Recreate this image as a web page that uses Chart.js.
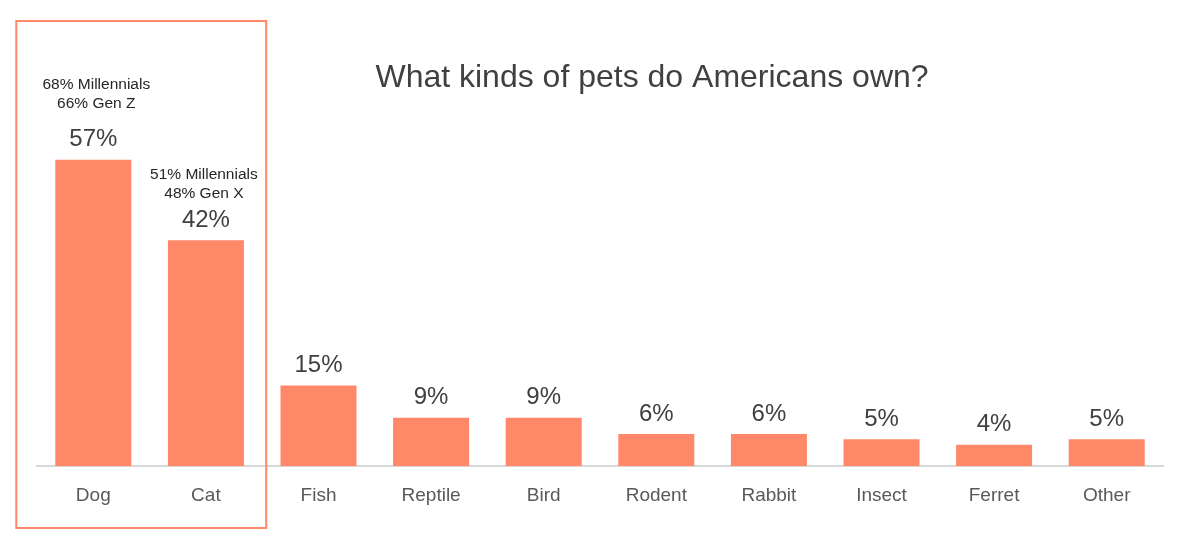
<!DOCTYPE html>
<html>
<head>
<meta charset="utf-8">
<script src="https://cdn.jsdelivr.net/npm/chart.js@4.4.1/dist/chart.umd.min.js"></script>
<style>
html,body{margin:0;padding:0;background:#fff;}
#wrap{width:1177px;height:550px;position:relative;}
</style>
</head>
<body>
<div id="wrap"><canvas id="c" width="1177" height="550"></canvas></div>
<script>
const categories = ["Dog","Cat","Fish","Reptile","Bird","Rodent","Rabbit","Insect","Ferret","Other"];
const values = [57,42,15,9,9,6,6,5,4,5];
const notes = [["68% Millennials","66% Gen Z"],["51% Millennials","48% Gen X"],null,null,null,null,null,null,null,null];
const titleText = "What kinds of pets do Americans own?";

const FONT = "'Liberation Sans', Arial, sans-serif";
const BAR = "#FF8868";

const overlay = {
  id: 'overlay',
  afterDatasetsDraw(chart) {
    const ctx = chart.ctx;
    const meta = chart.getDatasetMeta(0);
    const xs = chart.scales.x;
    ctx.save();
    ctx.textAlign = 'center';
    ctx.textBaseline = 'middle';
    meta.data.forEach((bar, i) => {
      ctx.fillStyle = '#404040';
      ctx.font = '24px ' + FONT;
      ctx.fillText(values[i] + '%', bar.x, bar.y - 20);
      if (notes[i]) {
        ctx.fillStyle = '#262626';
        ctx.font = '15.5px ' + FONT;
        const gap = i === 0 ? 56 : 47;
        ctx.fillText(notes[i][0], bar.x + (i === 0 ? 3 : -2), bar.y - gap - 19);
        ctx.fillText(notes[i][1], bar.x + (i === 0 ? 3 : -2), bar.y - gap);
      }
    });
    // title
    ctx.fillStyle = '#404040';
    ctx.font = '32px ' + FONT;
    ctx.fillText(titleText, 652, 78);
    // highlight box around Dog & Cat
    const left = xs.getPixelForValue(0) - 77;
    const right = (xs.getPixelForValue(1) + xs.getPixelForValue(2)) / 2 + 4;
    ctx.strokeStyle = '#FF8868';
    ctx.lineWidth = 2;
    ctx.strokeRect(left, 21, right - left, 507);
    ctx.restore();
  }
};

new Chart(document.getElementById('c'), {
  type: 'bar',
  data: {
    labels: categories,
    datasets: [{
      data: values,
      backgroundColor: BAR,
      borderWidth: 0,
      barPercentage: 0.675,
      categoryPercentage: 1.0
    }]
  },
  options: {
    responsive: false,
    animation: false,
    layout: { padding: { left: 37, right: 14, top: 36, bottom: 25 } },
    plugins: { legend: { display: false }, tooltip: { enabled: false }, title: { display: false } },
    scales: {
      x: {
        grid: { display: false, drawTicks: false },
        border: { display: true, color: '#D9D9D9', width: 2 },
        ticks: { color: '#595959', font: { family: FONT, size: 19 }, padding: 18 }
      },
      y: {
        display: false,
        min: 0,
        max: 80
      }
    }
  },
  plugins: [overlay]
});
</script>
</body>
</html>
